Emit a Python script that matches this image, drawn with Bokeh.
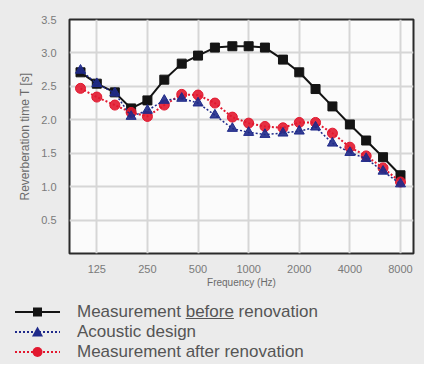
from bokeh.plotting import figure
from bokeh.models import Range1d, FixedTicker, ColumnDataSource, Div
from bokeh.layouts import column
from bokeh.embed import file_html
from bokeh.resources import INLINE

# ---- data ----
freqs = [100, 125, 160, 200, 250, 315, 400, 500, 630, 800, 1000, 1250, 1600,
         2000, 2500, 3150, 4000, 5000, 6300, 8000]
before = [2.71, 2.54, 2.41, 2.17, 2.29, 2.60, 2.84, 2.96, 3.08, 3.10, 3.10,
          3.08, 2.90, 2.71, 2.46, 2.20, 1.93, 1.69, 1.44, 1.17]
design = [2.74, 2.54, 2.40, 2.05, 2.14, 2.29, 2.32, 2.25, 2.07, 1.87, 1.81,
          1.78, 1.80, 1.83, 1.89, 1.65, 1.51, 1.42, 1.23, 1.04]
after = [2.47, 2.34, 2.22, 2.11, 2.05, 2.22, 2.38, 2.37, 2.25, 2.04, 1.95,
         1.90, 1.88, 1.96, 1.96, 1.80, 1.59, 1.46, 1.28, 1.07]
x_ticks = [125, 250, 500, 1000, 2000, 4000, 8000]
x_tick_labels = ["125", "250", "500", "1000", "2000", "4000", "8000"]
y_ticks = [0.5, 1.0, 1.5, 2.0, 2.5, 3.0, 3.5]
series_names = ["Measurement before renovation", "Acoustic design",
                "Measurement after renovation"]

BG = "#ebebeb"
BLACK = "#141414"
BLUE = "#1f2a8a"
RED = "#e2182f"
FONT = "Liberation Sans"

p = figure(frame_width=344, frame_height=234, x_axis_type="log",
           x_range=Range1d(86, 9560), y_range=Range1d(0, 3.5),
           output_backend="svg", toolbar_location=None,
           min_border_left=69, min_border_right=11, min_border_top=19,
           min_border_bottom=32)
p.background_fill_color = "#fbfbfb"
p.border_fill_color = BG
p.outline_line_color = "#2a2a2a"
p.outline_line_width = 2

p.xaxis.ticker = FixedTicker(ticks=x_ticks)
p.xaxis.major_label_overrides = {t: l for t, l in zip(x_ticks, x_tick_labels)}
p.yaxis.ticker = FixedTicker(ticks=y_ticks)
p.yaxis.major_label_overrides = {t: "%.1f" % t for t in y_ticks}
p.xaxis.minor_tick_line_color = None
p.yaxis.minor_tick_line_color = None
for ax in (p.xaxis, p.yaxis):
    ax.axis_line_color = None
    ax.major_tick_line_color = None
    ax.major_label_text_color = "#7a7a7a"
    ax.major_label_text_font = FONT
    ax.major_label_text_font_size = "11px"
    ax.axis_label_text_color = "#6a6a6a"
    ax.axis_label_text_font = FONT
    ax.axis_label_text_font_style = "normal"
p.xaxis.major_label_standoff = 5
p.yaxis.major_label_standoff = 7
p.xaxis.axis_label = "Frequency (Hz)"
p.xaxis.axis_label_text_font_size = "10px"
p.xaxis.axis_label_standoff = 1
p.yaxis.axis_label = "Reverberation time T [s]"
p.yaxis.axis_label_text_font_size = "12px"
p.yaxis.axis_label_standoff = 6

p.xgrid.grid_line_color = "#d6d6d6"
p.xgrid.grid_line_width = 2
p.ygrid.grid_line_color = "#d6d6d6"
p.ygrid.grid_line_width = 2

src = ColumnDataSource(dict(f=freqs, before=before, design=design, after=after))
p.line("f", "before", source=src, line_color=BLACK, line_width=2)
p.scatter("f", "before", source=src, marker="square", size=9,
          fill_color=BLACK, line_color=BLACK)
p.line("f", "after", source=src, line_color=RED, line_width=2, line_dash="2 2")
p.scatter("f", "after", source=src, marker="circle", size=10,
          fill_color=RED, line_color=RED, fill_alpha=0.9)
p.line("f", "design", source=src, line_color=BLUE, line_width=1.5, line_dash="2 2")
p.scatter("f", "design", source=src, marker="triangle", size=10,
          fill_color=BLUE, line_color=BLUE, fill_alpha=0.9)

# ---- legend below the chart (HTML, so that "before" can be underlined) ----
def sample(color, dash, marker):
    if marker == "square":
        m = f'<rect x="18" y="2.5" width="9" height="9" fill="{color}"/>'
    elif marker == "triangle":
        m = f'<polygon points="22.5,1.5 28,11.5 17,11.5" fill="{color}"/>'
    else:
        m = f'<circle cx="22.5" cy="7" r="5" fill="{color}"/>'
    da = f' stroke-dasharray="{dash}"' if dash else ""
    return (f'<svg width="45" height="14" style="position:absolute;left:15px;top:-7px">'
            f'<line x1="0" y1="7" x2="45" y2="7" stroke="{color}" stroke-width="2"{da}/>'
            f'{m}</svg>')

label_html = [series_names[0].replace("before", "<u>before</u>"),
              series_names[1], series_names[2]]
styles = [(BLACK, None, "square"), (BLUE, "2 2", "triangle"), (RED, "2 2", "circle")]
row_y = [22, 42, 62]
rows = ""
for yy, lab, (c, d, mk) in zip(row_y, label_html, styles):
    rows += (f'<div style="position:absolute;left:0;top:{yy}px;width:424px;height:0">'
             f'{sample(c, d, mk)}'
             f'<span style="position:absolute;left:77px;top:-10px;line-height:20px;'
             f'white-space:nowrap;font-family:\'{FONT}\';font-size:17px;color:#555555">'
             f'{lab}</span></div>')
legend_html = (f'<div style="position:relative;width:424px;height:74px;'
               f'background:{BG};overflow:hidden">{rows}</div>')
leg = Div(text=legend_html, width=424, height=74, margin=(0, 0, 0, 0),
          styles={"background-color": BG})

layout = column(p, leg, spacing=0)
layout.styles = {"background-color": BG}
open("out.html", "w").write(file_html(layout, INLINE))
